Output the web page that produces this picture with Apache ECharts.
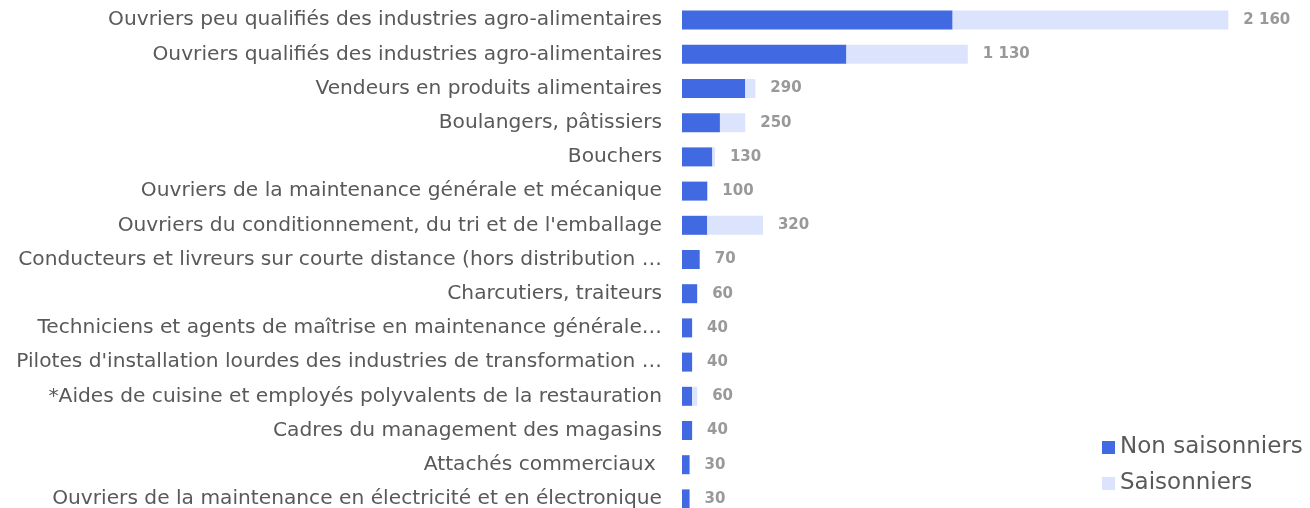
<!DOCTYPE html>
<html>
<head>
<meta charset="utf-8">
<script src="https://cdn.jsdelivr.net/npm/echarts@6/dist/echarts.min.js"></script>
<style>
  html, body { margin: 0; padding: 0; background: #fff; overflow: hidden; }
  #main { width: 1310px; height: 517px; }
</style>
</head>
<body>
<div id="main"></div>
<script>
// métiers, du plus haut au plus bas
const metiers = [
  "Ouvriers peu qualifiés des industries agro-alimentaires",
  "Ouvriers qualifiés des industries agro-alimentaires",
  "Vendeurs en produits alimentaires",
  "Boulangers, pâtissiers",
  "Bouchers",
  "Ouvriers de la maintenance générale et mécanique",
  "Ouvriers du conditionnement, du tri et de l'emballage",
  "Conducteurs et livreurs sur courte distance (hors distribution de colis)",
  "Charcutiers, traiteurs",
  "Techniciens et agents de maîtrise en maintenance générale et mécanique",
  "Pilotes d'installation lourdes des industries de transformation et de production",
  "*Aides de cuisine et employés polyvalents de la restauration",
  "Cadres du management des magasins",
  "Attachés commerciaux ",
  "Ouvriers de la maintenance en électricité et en électronique"
];
const nonSaisonniers = [1070, 650, 250, 150, 120, 100, 100, 70, 60, 40, 40, 40, 40, 30, 30];
const saisonniers    = [1090, 480,  40, 100,  10,   0, 220,  0,  0,  0,  0, 20,  0,  0,  0];

const totals = nonSaisonniers.map((v, i) => v + saisonniers[i]);
const fmt = n => String(n).replace(/\B(?=(\d{3})+(?!\d))/g, ' ');

// le graphique déborde un peu sous la fenêtre, comme dans l'original
const chart = echarts.init(document.getElementById('main'));
chart.setOption({
  animation: false,
  grid: { left: 682, right: 21, top: 3, bottom: 1 },
  legend: {
    orient: 'vertical',
    left: 1097,
    top: 431,
    itemWidth: 13,
    itemHeight: 13,
    itemGap: 13,
    icon: 'rect',
    textStyle: { fontFamily: 'DejaVu Sans', fontSize: 23, color: '#595959', padding: [0, 0, 0, 0] },
    data: ['Non saisonniers', 'Saisonniers']
  },
  xAxis: { type: 'value', min: 0, max: 2400, show: false },
  yAxis: {
    type: 'category',
    inverse: true,
    data: metiers,
    axisLine: { show: false },
    axisTick: { show: false },
    axisLabel: {
      margin: 20,
      fontFamily: 'DejaVu Sans',
      fontSize: 20.2,
      color: '#595959',
      width: 658,
      overflow: 'truncate',
      ellipsis: '…'
    }
  },
  series: [
    {
      name: 'Non saisonniers',
      type: 'bar',
      stack: 'total',
      barWidth: 19,
      itemStyle: { color: '#4169E1' },
      data: nonSaisonniers
    },
    {
      name: 'Saisonniers',
      type: 'bar',
      stack: 'total',
      barWidth: 19,
      itemStyle: { color: '#DCE3FC' },
      label: {
        show: true,
        position: 'right',
        distance: 15,
        fontFamily: 'DejaVu Sans',
        fontSize: 15,
        fontWeight: 'bold',
        color: '#999999',
        formatter: p => fmt(totals[p.dataIndex])
      },
      data: saisonniers
    }
  ]
});
</script>
</body>
</html>
